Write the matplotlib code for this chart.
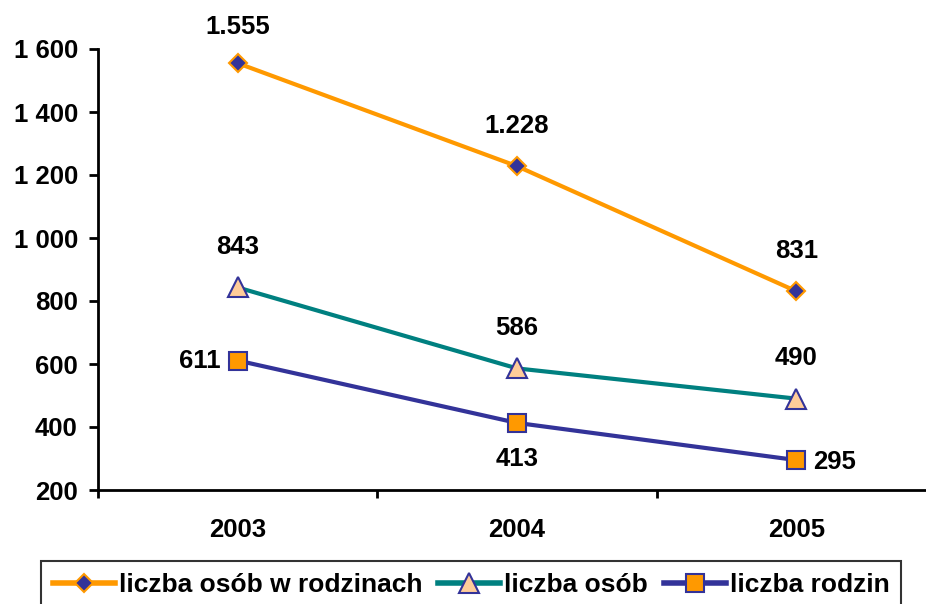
import numpy as np
import matplotlib.pyplot as plt
from matplotlib.ticker import FixedLocator, FuncFormatter

plt.rcParams['font.family'] = ['Liberation Sans', 'DejaVu Sans']
plt.rcParams['font.weight'] = 'bold'

# dane
lata = ['2003', '2004', '2005']
osoby_w_rodzinach = [1555, 1228, 831]
osoby = [843, 586, 490]
rodziny = [611, 413, 295]
etykiety_1 = ['1.555', '1.228', '831']
etykiety_2 = ['843', '586', '490']
etykiety_3 = ['611', '413', '295']

orange = '#FF9900'
teal = '#008080'
navy = '#333399'

fig = plt.figure(figsize=(9.26, 6.04), dpi=100)
ax = fig.add_axes([98 / 926, 1 - 490 / 604, 1 - 98 / 926, (490 - 49) / 604])
x = np.arange(len(lata))

ax.plot(x, osoby_w_rodzinach, color=orange, lw=3, marker='D', ms=9.5,
        mfc=navy, mec=orange, mew=1.5, label='liczba osób w rodzinach')
ax.plot(x, osoby, color=teal, lw=3, marker='^', ms=14,
        mfc='#FFCC99', mec=navy, mew=1.5, label='liczba osób')
ax.plot(x, rodziny, color=navy, lw=3, marker='s', ms=12.5,
        mfc=orange, mec=navy, mew=1.5, label='liczba rodzin')

fs = 18.5
def etykieta(tekst, xy, dx, dy, ha='center'):
    ax.annotate(tekst, xy, xytext=(dx, dy), textcoords='offset points',
                ha=ha, va='center', fontsize=fs, fontweight='bold')

for i in range(3):
    etykieta(etykiety_1[i], (x[i], osoby_w_rodzinach[i]), 0, 26 if i == 0 else 29)
    etykieta(etykiety_2[i], (x[i], osoby[i]), 0, 29)
# rodziny: z lewej, pod spodem, z prawej
etykieta(etykiety_3[0], (x[0], rodziny[0]), -12, 0, ha='right')
etykieta(etykiety_3[1], (x[1], rodziny[1]), 0, -26)
etykieta(etykiety_3[2], (x[2], rodziny[2]), 12, -1.5, ha='left')

ax.set_xlim(-0.5, 2.5 - 10 / 279.5)
ax.set_ylim(200, 1600)
ax.set_yticks(range(200, 1601, 200))
ax.yaxis.set_major_formatter(FuncFormatter(lambda v, p: f'{int(v):,}'.replace(',', ' ')))
ax.set_xticks(x)
ax.set_xticklabels(lata)
ax.xaxis.set_minor_locator(FixedLocator([-0.5, 0.5, 1.5, 2.5]))
ax.tick_params(axis='x', which='major', length=0, pad=20, labelsize=fs)
ax.tick_params(axis='x', which='minor', length=6, width=2)
ax.tick_params(axis='y', length=6.5, width=2, labelsize=fs, pad=8)
for lab in ax.get_xticklabels() + ax.get_yticklabels():
    lab.set_fontweight('bold')

ax.spines['top'].set_visible(False)
ax.spines['right'].set_visible(False)
ax.spines['left'].set_linewidth(2)
ax.spines['bottom'].set_linewidth(2)

leg = fig.legend(loc='upper left', bbox_to_anchor=(41 / 926, 1 - 561 / 604),
                 ncol=3, frameon=True, fancybox=False, fontsize=19,
                 handlelength=2.35, handletextpad=0.15, columnspacing=0.6,
                 borderpad=0.45, borderaxespad=0)
leg.get_frame().set_edgecolor('black')
leg.get_frame().set_linewidth(1.5)
for t in leg.get_texts():
    t.set_fontweight('bold')
for h in leg.legend_handles:
    h.set_linewidth(4)

fig.savefig('out.png', dpi=100)
